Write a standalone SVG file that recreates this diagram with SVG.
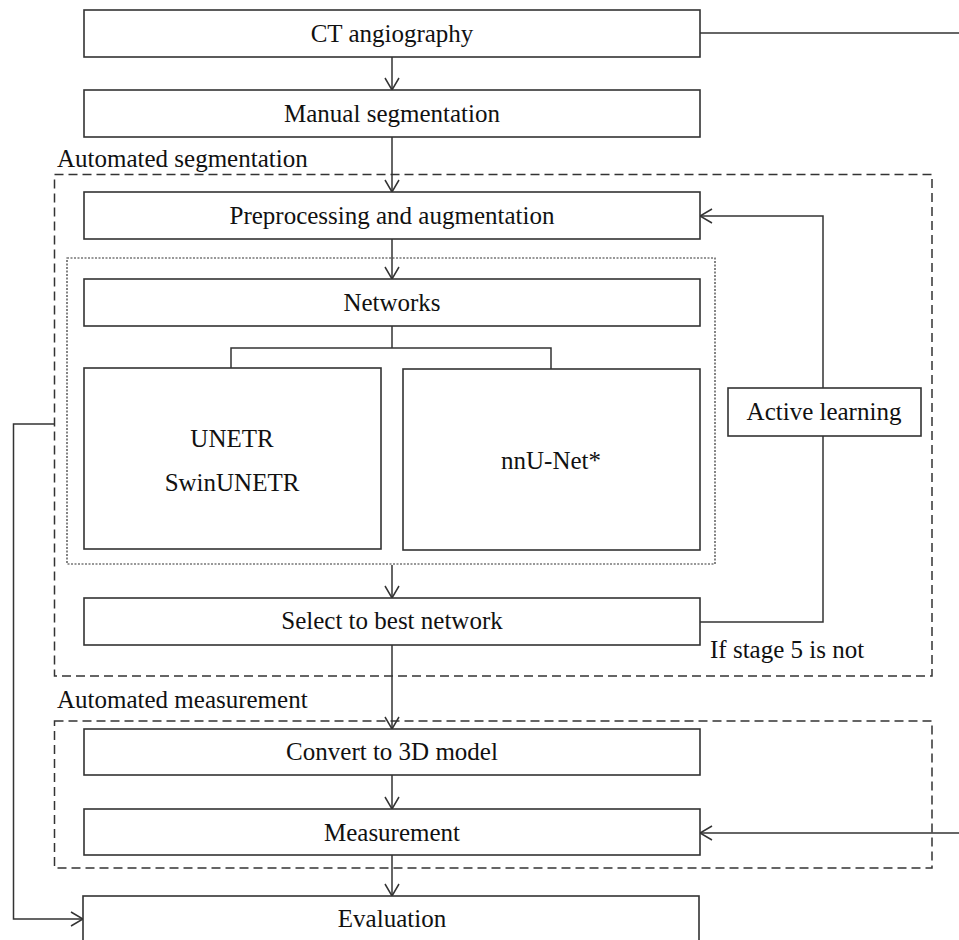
<svg xmlns="http://www.w3.org/2000/svg" width="959" height="940" viewBox="0 0 959 940">
<style>
  .box{fill:#fff;stroke:#333;stroke-width:1.6}
  .t{font-family:"Liberation Serif","Times New Roman",serif;font-size:25px;fill:#111;text-anchor:middle}
  .l{font-family:"Liberation Serif","Times New Roman",serif;font-size:25px;fill:#111}
  .dash{fill:none;stroke:#333;stroke-width:1.5;stroke-dasharray:9 5}
  .dot{fill:none;stroke:#333;stroke-width:1.2;stroke-dasharray:2 1.5}
  .c{fill:none;stroke:#333;stroke-width:1.5}
  .a{marker-end:url(#arr)}
</style>
<defs>
  <marker id="arr" viewBox="0 0 14 16" refX="13" refY="8" markerWidth="14" markerHeight="16" markerUnits="userSpaceOnUse" orient="auto">
    <path d="M1,1 L13,8 L1,15" fill="none" stroke="#333" stroke-width="1.5"/>
  </marker>
</defs>
<rect width="959" height="940" fill="#fff"/>

<g id="group-automated-segmentation">
  <rect class="dash" x="54.5" y="174.5" width="877.5" height="501.5"/>
  <text class="l" x="57" y="167">Automated segmentation</text>
</g>
<g id="group-networks">
  <rect class="dot" x="67" y="258" width="648" height="306"/>
</g>
<g id="group-automated-measurement">
  <rect class="dash" x="54.5" y="721" width="877.5" height="147"/>
  <text class="l" x="57" y="708">Automated measurement</text>
</g>

<g id="connectors">
  <line class="c a" x1="392" y1="57" x2="392" y2="90"/>
  <line class="c" x1="700" y1="33" x2="960" y2="33"/>
  <line class="c a" x1="392" y1="137" x2="392" y2="192"/>
  <line class="c a" x1="392" y1="239" x2="392" y2="279"/>
  <polyline class="c" points="392,326 392,348"/>
  <polyline class="c" points="231,368 231,348 551,348 551,369"/>
  <line class="c a" x1="392" y1="565" x2="392" y2="598"/>
  <polyline class="c" points="700,622 823,622 823,436"/>
  <polyline class="c a" points="823,388 823,216 700,216"/>
  <line class="c a" x1="392" y1="645" x2="392" y2="729"/>
  <line class="c a" x1="392" y1="775" x2="392" y2="809"/>
  <line class="c a" x1="960" y1="833" x2="700" y2="833"/>
  <line class="c a" x1="392" y1="855" x2="392" y2="896"/>
  <polyline class="c a" points="54.5,424 13.5,424 13.5,919 83,919"/>
  <text class="l" x="710" y="658">If stage 5 is not</text>
</g>

<g id="node-ct"><rect class="box" x="84" y="10" width="616" height="47"/><text class="t" x="392" y="42">CT angiography</text></g>
<g id="node-manual"><rect class="box" x="84" y="90" width="616" height="47"/><text class="t" x="392" y="122">Manual segmentation</text></g>
<g id="node-preproc"><rect class="box" x="84" y="192" width="616" height="47"/><text class="t" x="392" y="224">Preprocessing and augmentation</text></g>
<g id="node-networks"><rect class="box" x="84" y="279" width="616" height="47"/><text class="t" x="392" y="311">Networks</text></g>
<g id="node-unetr"><rect class="box" x="84" y="368" width="297" height="181"/><text class="t" x="232" y="447">UNETR</text><text class="t" x="232" y="491">SwinUNETR</text></g>
<g id="node-nnunet"><rect class="box" x="403" y="369" width="297" height="181"/><text class="t" x="551" y="469">nnU-Net*</text></g>
<g id="node-active"><rect class="box" x="728" y="388" width="193" height="48"/><text class="t" x="824" y="420">Active learning</text></g>
<g id="node-select"><rect class="box" x="84" y="598" width="616" height="47"/><text class="t" x="392" y="629">Select to best network</text></g>
<g id="node-convert"><rect class="box" x="84" y="729" width="616" height="46"/><text class="t" x="392" y="760">Convert to 3D model</text></g>
<g id="node-measurement"><rect class="box" x="84" y="809" width="616" height="46"/><text class="t" x="392" y="841">Measurement</text></g>
<g id="node-evaluation"><rect class="box" x="83" y="896" width="616" height="60"/><text class="t" x="392" y="927">Evaluation</text></g>
</svg>
